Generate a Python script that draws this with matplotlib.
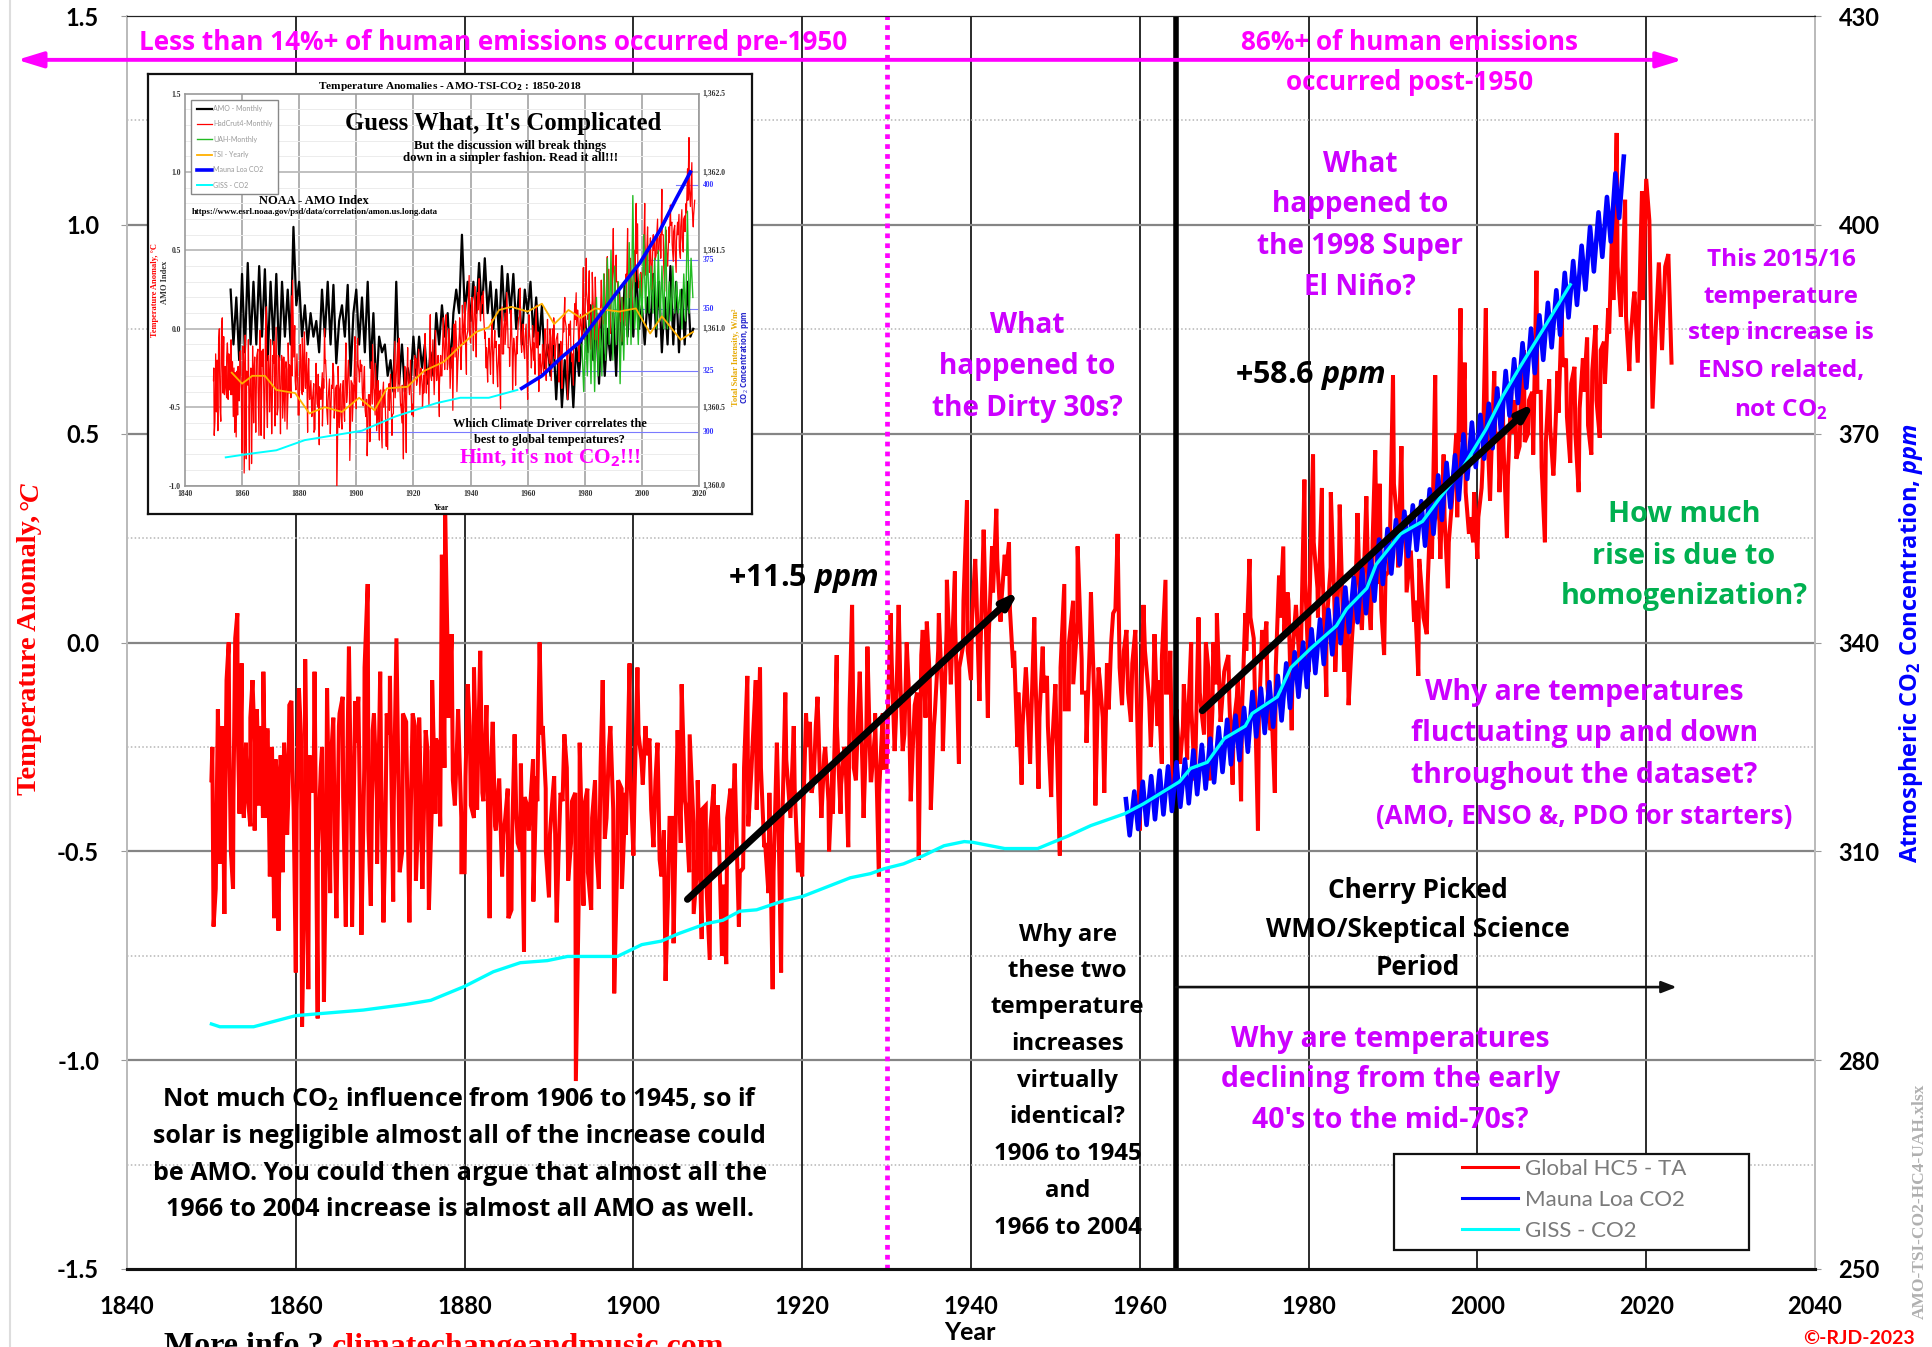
import numpy as np
import matplotlib
matplotlib.use('Agg')
import matplotlib.pyplot as plt
from matplotlib.patches import Rectangle, FancyArrowPatch

plt.rcParams['font.family'] = ['Lato', 'DejaVu Sans']
plt.rcParams['mathtext.fontset'] = 'custom'
plt.rcParams['mathtext.rm'] = 'Open Sans'
plt.rcParams['mathtext.bf'] = 'Open Sans:bold'
plt.rcParams['mathtext.it'] = 'Open Sans:italic:bold'

# global temperature anomaly, spikes and dips read by decade
red_1850s = [-0.33,-0.68,-0.59,-0.16,-0.53,-0.2,-0.65,-0.09,0.0,-0.5,-0.59,0.01,0.07,-0.41,-0.05,-0.42,-0.24,-0.38,-0.18,-0.09,-0.45,-0.16,-0.39,-0.2,-0.07,-0.42,-0.21,-0.56,-0.25,-0.66,-0.3,-0.69,-0.27,-0.55,-0.28,-0.46,-0.15,-0.14,-0.4]
red_1860s = [-0.79,-0.11,-0.92,-0.04,-0.83,-0.3,-0.07,-0.9,-0.3,-0.86,-0.11,-0.6,-0.18,-0.66,-0.17,-0.13,-0.68,-0.01,-0.68,-0.14,-0.13,-0.7,-0.06,0.14,-0.63,-0.17,-0.53]
red_1870s = [-0.07,-0.67,-0.17,-0.08,-0.62,0.01,-0.55,-0.17,-0.19,-0.67,-0.17,-0.57,-0.18,-0.59,-0.21,-0.64,-0.09,-0.41,-0.25,0.21,0.31,-0.12,0.02,-0.39,-0.16,-0.55]
red_1880s = [-0.55,-0.1,-0.39,-0.06,-0.4,-0.02,-0.38,-0.15,-0.66,-0.19,-0.45,-0.33,-0.56,-0.42,-0.66,-0.64,-0.22,-0.48,-0.29,-0.74,-0.39,-0.39,-0.62,-0.32,0.0,-0.2,-0.5]
red_1890s = [-0.61,-0.36,-0.67,-0.36,-0.22,-0.57,-0.38,-1.05,-0.24,-0.63,-0.35,-0.64,-0.33,-0.59,-0.09,-0.42,-0.2,-0.84,-0.33,-0.59,-0.36,-0.05]
red_1900s = [-0.51,-0.06,-0.28,-0.2,-0.23,-0.49,-0.24,-0.56,-0.81,-0.42,-0.72,-0.21,-0.1,-0.39,-0.22,-0.65,-0.33,-0.71,-0.39,-0.76,-0.34]
red_1910s = [-0.39,-0.75,-0.77,-0.35,-0.29,-0.68,-0.54,-0.08,-0.3,-0.09,-0.06,-0.49,-0.6,-0.83,-0.24,-0.79,-0.12,-0.39,-0.2,-0.55]
red_1920s = [-0.56,-0.17,-0.19,-0.33,-0.13,-0.42,-0.25,-0.5,-0.41,-0.03,-0.41,-0.25,-0.49,0.09,-0.33,-0.07,-0.42,-0.01,-0.33,-0.17,-0.56,-0.17]
red_1930s = [-0.3,0.07,-0.26,0.09,-0.26,0.0,-0.38,-0.15,-0.52,0.03,0.05,-0.4,-0.17,0.07,-0.26,0.15,-0.09,0.17,-0.29,-0.01,0.34]
red_1940s = [-0.09,0.2,-0.14,0.27,-0.18,0.23,0.32,0.05,0.21,0.24,-0.06,-0.25,-0.34,-0.06,-0.29,0.06,-0.35,-0.01,-0.08,-0.37]
red_1950s = [-0.1,-0.51,0.14,-0.16,0.1,0.23,-0.12,-0.24,0.12,-0.39,-0.09,-0.36,-0.16,0.07,0.26,-0.15,0.03,-0.19,0.03]
red_1960s = [-0.45,0.09,-0.08,-0.25,0.02,-0.09,-0.29,0.15,-0.12,-0.4,-0.16,-0.29,-0.1,-0.22,0.0,-0.33,0.06,-0.18,0.0,-0.33,0.0,0.07,-0.19]
red_1970s = [-0.07,-0.03,-0.34,-0.13,-0.38,0.07,0.2,0.01,-0.45,0.03,0.05,-0.21,-0.36,0.16,0.23,0.12,-0.21,0.09,-0.07,0.39]
red_1980s = [-0.07,0.45,0.13,0.37,-0.13,0.36,-0.07,0.33,-0.07,-0.15,0.05,0.31,0.03,0.35,0.03,0.46,0.38,-0.03,0.17]
red_1990s = [0.64,0.29,0.47,0.3,0.2,0.05,-0.08,0.1,0.02,0.35,0.64,0.29,0.45,0.13,0.34,0.5,0.8,0.67,0.26,0.24]
red_2000s = [0.2,0.37,0.8,0.34,0.65,0.5,0.58,0.25,0.6,0.58,0.47,0.7,0.5,0.6,0.89,0.6,0.24,0.63,0.4,0.65]
red_2010s = [0.79,0.68,0.43,0.66,0.36,0.68,0.73,0.45,0.76,0.49,0.72,0.8,1.02,1.22,0.78,1.06,0.65,0.82,0.67,1.08]
red_2020s = [1.11,1.01,0.56,0.75,0.91,0.7,0.9,0.93,0.67]

# the small wiggles between them, in the solid core of the band
mid_1850s = [-0.25,-0.42,-0.3,-0.45,-0.22,-0.38,-0.2,-0.36,-0.27,-0.44,-0.24,-0.33,-0.42,-0.21,-0.35,-0.28,-0.4,-0.24,-0.37,-0.3]
mid_1860s = [-0.4,-0.22,-0.48,-0.27,-0.36,-0.5,-0.25,-0.43,-0.3,-0.46,-0.2,-0.37,-0.28,-0.49,-0.24,-0.41,-0.3,-0.45,-0.21,-0.38]
mid_1870s = [-0.3,-0.46,-0.22,-0.38,-0.27,-0.5,-0.25,-0.42,-0.2,-0.36,-0.47,-0.26,-0.4,-0.23,-0.44,-0.3,-0.18,-0.33,-0.24,-0.42]
mid_1880s = [-0.32,-0.2,-0.42,-0.25,-0.36,-0.18,-0.3,-0.44,-0.33,-0.46,-0.35,-0.48,-0.4,-0.5,-0.37,-0.45,-0.28,-0.38,-0.22,-0.35]
mid_1890s = [-0.46,-0.32,-0.52,-0.38,-0.3,-0.48,-0.36,-0.5,-0.4,-0.55,-0.42,-0.5,-0.3,-0.47,-0.25,-0.4,-0.5,-0.35,-0.46,-0.3]
mid_1900s = [-0.38,-0.22,-0.34,-0.27,-0.4,-0.33,-0.52,-0.45,-0.6,-0.42,-0.33,-0.48,-0.38,-0.55,-0.43,-0.52,-0.4,-0.56,-0.45,-0.5]
mid_1910s = [-0.45,-0.58,-0.42,-0.52,-0.38,-0.55,-0.3,-0.44,-0.25,-0.4,-0.3,-0.48,-0.36,-0.55,-0.33,-0.46,-0.28,-0.42,-0.35,-0.48]
mid_1920s = [-0.42,-0.25,-0.36,-0.2,-0.33,-0.27,-0.38,-0.3,-0.2,-0.34,-0.26,-0.16,-0.3,-0.18,-0.28,-0.2,-0.33,-0.22,-0.36,-0.3]
mid_1930s = [-0.2,-0.05,-0.18,-0.08,-0.22,-0.1,-0.25,-0.12,-0.03,-0.18,-0.08,-0.2,-0.02,-0.14,0.03,-0.1,0.05,-0.06,0.1,-0.02]
mid_1940s = [0.05,0.14,-0.03,0.18,0.02,0.12,0.2,0.1,0.16,0.08,-0.02,-0.12,-0.2,-0.1,-0.2,-0.06,-0.18,-0.12,-0.2,-0.25]
mid_1950s = [-0.2,-0.06,-0.16,0.0,-0.1,0.05,-0.04,-0.12,0.02,-0.14,-0.06,-0.18,-0.05,0.0,0.08,-0.06,-0.02,-0.12,-0.05,-0.1]
mid_1960s = [-0.2,-0.02,-0.14,-0.1,-0.2,-0.04,-0.12,-0.02,-0.2,-0.26,-0.2,-0.28,-0.16,-0.26,-0.12,-0.22,-0.06,-0.16,-0.1,-0.18]
mid_1970s = [-0.06,-0.14,-0.2,-0.08,-0.16,-0.02,0.06,-0.1,-0.18,-0.04,-0.1,-0.16,-0.06,0.06,0.02,0.1,-0.02,0.05,0.0,0.14]
mid_1980s = [0.1,0.24,0.06,0.2,0.04,0.18,0.06,0.2,0.02,0.1,0.0,0.16,0.08,0.2,0.1,0.26,0.14,0.08,0.16,0.22]
mid_1990s = [0.38,0.18,0.3,0.12,0.22,0.1,0.2,0.06,0.14,0.2,0.36,0.2,0.3,0.24,0.38,0.3,0.48,0.36,0.3,0.36]
mid_2000s = [0.3,0.42,0.55,0.42,0.5,0.36,0.46,0.4,0.5,0.44,0.56,0.48,0.58,0.45,0.6,0.42,0.48,0.52,0.44,0.55]
mid_2010s = [0.66,0.54,0.62,0.5,0.56,0.6,0.52,0.65,0.58,0.7,0.62,0.74,0.82,0.9,0.84,0.78,0.72,0.84,0.76,0.82]

red_decades = [red_1850s,red_1860s,red_1870s,red_1880s,red_1890s,red_1900s,red_1910s,red_1920s,red_1930s,
               red_1940s,red_1950s,red_1960s,red_1970s,red_1980s,red_1990s,red_2000s,red_2010s]
mid_decades = [mid_1850s,mid_1860s,mid_1870s,mid_1880s,mid_1890s,mid_1900s,mid_1910s,mid_1920s,mid_1930s,
               mid_1940s,mid_1950s,mid_1960s,mid_1970s,mid_1980s,mid_1990s,mid_2000s,mid_2010s]

# mauna loa seasonal high and low of each year, ppm
co2_first_year = 1958
co2_high = [317.5,318.6,320.0,320.8,321.6,322.2,322.8,323.2,324.5,325.3,326.2,327.8,328.9,329.5,330.6,332.9,333.4,334.3,335.2,337.0,338.6,340.0,341.9,343.3,344.7,346.3,347.9,349.3,350.6,352.4,354.8,356.3,357.6,358.8,359.7,360.3,362.0,364.0,365.8,366.9,369.9,371.6,372.7,374.3,376.5,379.0,380.7,383.0,385.1,387.0,388.8,390.6,393.1,394.8,397.0,399.7,401.8,404.0,407.4,409.8]
co2_low = [312.3,313.2,313.8,314.6,315.3,315.8,316.4,316.9,318.2,319.0,319.9,321.4,322.5,323.1,324.3,326.5,327.0,327.9,328.8,330.6,332.2,333.6,335.6,336.9,338.3,339.9,341.5,342.9,344.2,346.0,348.4,349.9,351.2,352.4,353.3,353.9,355.6,357.6,359.4,360.5,363.5,365.2,366.4,367.9,370.1,372.6,374.4,376.6,378.7,380.6,382.4,384.2,386.7,388.5,390.7,393.3,395.4,397.6,401.0]

# giss co2
giss_years = [1850,1851,1855,1860,1863,1868,1873,1876,1880,1883.4,1886.6,1889.8,1892.2,1898.1,1901,1903.3,1905.4,1908.6,1910.6,1912.6,1914.6,1917.8,1920,1925.7,1928.1,1929.7,1932,1934.4,1936.8,1939.2,1940.2,1944,1947.9,1951.5,1954.2,1958.2,1960.4,1964.7,1966,1968,1970,1972.5,1973.3,1976.3,1977.9,1980.3,1983.3,1984.5,1986.9,1988,1990.9,1993.5,1995.7,1998,2001,2003,2005,2008,2011]
giss_ppm = [285.2,284.8,284.8,286.4,286.7,287.2,288.0,288.6,290.6,292.7,294.0,294.3,294.9,294.9,296.6,297.1,298.2,299.6,300.1,301.4,301.6,302.9,303.5,306.2,306.8,307.5,308.2,309.4,310.8,311.4,311.3,310.4,310.4,312.2,313.7,315.4,316.8,320.0,321.9,322.8,326.2,328.0,329.8,332.2,336.4,339.2,342.4,344.8,347.8,351.2,355.6,357.4,361.0,364.6,370.6,375.4,379.5,385.4,391.4]

# small chart in the corner
amo_first_year = 1856
amo_vals = [.25,-.1,.2,-.2,.35,-.15,.42,-.1,.3,-.1,.4,-.05,.38,-.2,.3,-.1,.35,-.2,.3,-.05,.25,-.1,.65,.15,
            .3,-.05,.15,-.1,.1,-.05,.05,-.15,.25,-.05,.3,-.1,.28,-.22,.05,.15,-.05,.28,-.3,.1,
            .25,-.1,.2,-.15,.3,-.25,.1,-.4,-.05,-.15,-.1,-.3,-.2,-.4,.3,-.35,-.1,-.4,-.25,-.35,
            -.05,-.3,-.05,-.25,-.1,-.35,-.15,-.3,.1,-.1,.15,-.05,.1,-.25,.1,.25,.1,.6,.1,.3,
            .05,.3,.1,.42,.1,.45,.1,.3,0,.25,-.05,.4,.05,.35,.1,.35,0,.25,-.1,.25,
            .1,.3,-.05,.2,-.1,.15,-.25,-.1,-.3,-.05,-.45,-.1,-.5,-.2,-.45,-.15,-.5,-.1,-.3,-.05,
            .1,-.15,.15,-.2,.05,-.35,.1,-.3,0,-.2,.1,-.3,.25,-.1,.3,-.05,.3,-.05,.4,0,
            .15,-.1,.2,0,.35,-.05,.3,-.15,.2,-.1,.4,-.1,.3,-.15,.25,-.1,.3,-.05,0]
uah_vals = [-.1,-.4,0,-.3,.1,-.35,.15,-.4,.2,-.3,0,-.3,.35,-.2,.45,-.1,.5,-.2,.4,-.1,.3,-.35,.2,-.2,.3,-.1,.55,-.1,.85,0,.2,-.1,.35,.05,.6,.1,.5,.1,.4,.1,.45,0,.5,.05,.4,0,.65,0,.3,.05,.4,.1,.3,.1,.25,0,.35,.05,.75,.1,.45,.2]
tsi_years = [1856.4,1860,1863.6,1868,1872,1878.6,1883.6,1889,1895,1901,1906.4,1910.7,1917.9,1923.6,1930.7,1936.4,1942,1946.4,1950,1954.3,1960,1965,1969.3,1974.3,1978.6,1983.6,1992,1997.9,2002.9,2007,2013.6,2017.9]
tsi_vals = [-.28,-.35,-.3,-.3,-.39,-.41,-.54,-.5,-.53,-.44,-.52,-.38,-.37,-.27,-.21,-.11,-.02,.01,.12,.14,.11,.16,.03,.12,.07,.13,.11,.13,-.03,.08,-.07,-.02]
inset_blue_years = [1957.9,1965,1972,1977.9,1985,1992,1999.3,2006.4,2012,2017]
inset_blue_vals = [-.38,-.3,-.18,-.09,.08,.25,.42,.63,.83,1.0]
inset_cyan_years = [1854.3,1863.6,1872,1882,1892,1902,1913.6,1927.9,1936.4,1946.4,1956.4]
inset_cyan_vals = [-.82,-.795,-.775,-.71,-.68,-.65,-.56,-.475,-.44,-.44,-.39]

x_ticks = [1840,1860,1880,1900,1920,1940,1960,1980,2000,2020,2040]
y_ticks = [-1.5,-1.0,-0.5,0.0,0.5,1.0,1.5]
y_minor = [-1.25,-0.75,-0.25,0.25,0.75,1.25]
co2_ticks = [250,280,310,340,370,400,430]

purple = '#cc00ff'
magenta = '#ff00ff'
green = '#00b050'

# build red line, each decade spread over its ten years, wiggles merged in by year
red_x = []
red_y = []
for i, dec in enumerate(red_decades):
    start = 1850 + i*10
    red_x += list(np.linspace(start, start+10, len(dec), endpoint=False))
    red_y += dec
    red_x += list(np.linspace(start, start+10, len(mid_decades[i]), endpoint=False) + 0.11)
    red_y += mid_decades[i]
red_x += list(np.linspace(2020, 2023, len(red_2020s)))
red_y += red_2020s
red_x = np.array(red_x)
red_y = np.array(red_y)
order = np.argsort(red_x)
red_x = red_x[order]
red_y = red_y[order]

# blue line goes high then low in each year, ends on the last high
blue_x = []
blue_y = []
for i in range(len(co2_high)):
    blue_x.append(co2_first_year+i+0.35)
    blue_y.append(co2_high[i])
    if i < len(co2_low):
        blue_x.append(co2_first_year+i+0.8)
        blue_y.append(co2_low[i])

W = 1568.0
H = 1093.0

fig = plt.figure(figsize=(19.33,13.47), dpi=100, facecolor='white')
ax = fig.add_axes([127/1933, 1-1269/1347, (1815-127)/1933, (1269-16)/1347])
ax2 = ax.twinx()

ax.set_xlim(1840,2040)
ax.set_ylim(-1.5,1.5)
ax2.set_ylim(250,430)

ax.set_xticks(x_ticks)
ax.set_yticks(y_ticks)
ax2.set_yticks(co2_ticks)
ax.set_yticklabels(['%.1f' % v for v in y_ticks])
ax.tick_params(labelsize=17, length=4, color='#999999', pad=16)
ax.tick_params(axis='x', pad=19, length=0)
ax2.tick_params(labelsize=17, length=4, color='#999999', pad=13)
for lab in ax.get_xticklabels()+ax.get_yticklabels()+ax2.get_yticklabels():
    lab.set_fontweight('bold')

ax.set_axisbelow(True)
for v in x_ticks[1:-1]:
    ax.axvline(v, color='#1a1a1a', lw=1.3, zorder=1)
for v in y_ticks[1:-1]:
    ax.axhline(v, color='#858585', lw=1.6, zorder=1)
for v in y_minor:
    ax.axhline(v, color='#b5b5b5', lw=1.1, ls=(0,(1,1.5)), zorder=1)

for a in [ax, ax2]:
    a.spines['left'].set_color('#bbbbbb')
    a.spines['right'].set_color('#bbbbbb')
    a.spines['top'].set_color('#222222')
    a.spines['bottom'].set_color('#111111')
    a.spines['bottom'].set_linewidth(2.2)
    a.spines['left'].set_linewidth(1.3)
    a.spines['right'].set_linewidth(1.3)

l_red, = ax.plot(red_x, red_y, color='#ff0000', lw=2.9, solid_joinstyle='miter', zorder=3, label='Global HC5 - TA')
ax.axvline(1930, color=magenta, lw=3.4, ls=(0,(1,1.1)), zorder=4)
ax.axvline(1964.25, color='black', lw=4, zorder=5)

l_blue, = ax2.plot(blue_x, blue_y, color='#0000ff', lw=3.3, label='Mauna Loa CO2', zorder=3)
l_cyan, = ax2.plot(giss_years, giss_ppm, color='#00ffff', lw=2.4, label='GISS - CO2', zorder=4)

# trend arrows and span arrows
ax2.annotate('', xy=(1945.7,347.4), xytext=(1906.4,303.1), zorder=6,
             arrowprops=dict(arrowstyle='-|>,head_width=0.3,head_length=0.9', color='black', lw=5, shrinkA=0, shrinkB=0))
ax2.annotate('', xy=(2006.8,374.4), xytext=(1967.4,330.2), zorder=6,
             arrowprops=dict(arrowstyle='-|>,head_width=0.3,head_length=0.9', color='black', lw=5, shrinkA=0, shrinkB=0))
ax2.annotate('', xy=(2023.6,290.5), xytext=(1964.3,290.5), zorder=6,
             arrowprops=dict(arrowstyle='-|>,head_width=0.35,head_length=0.9', color='#111111', lw=1.9, shrinkA=0, shrinkB=0))
ax2.add_patch(FancyArrowPatch((1827,1.395), (2024.3,1.395), transform=ax.transData, clip_on=False,
              arrowstyle='<|-|>,head_width=0.4,head_length=1.3', color=magenta, lw=2.8, mutation_scale=12, shrinkA=0, shrinkB=0, zorder=6))

# legend box
ax2.add_patch(Rectangle((1131/W, 1-1014/H), 288/W, 78/H, transform=fig.transFigure, facecolor='white',
                        edgecolor='#111111', lw=1.6, zorder=7))
leg = ax2.legend(handles=[l_red,l_blue,l_cyan], loc='center left', bbox_to_anchor=(1170/W,1-973.5/H),
                 bbox_transform=fig.transFigure, frameon=False, fontsize=16, handlelength=2.5, handletextpad=0.3,
                 labelspacing=0.5, labelcolor='#7a7a7a')
leg.set_zorder(8)
for h in leg.get_lines():
    h.set_linewidth(2.2)


def lines_at(xc, ys, lines, color='black', size=20, weight='bold', family='Open Sans', style='normal', zo=9):
    # centred text lines at positions measured on the 1568 wide picture
    for yy, s in zip(ys, lines):
        fig.text(xc/W, 1-(yy+1.3)/H, s, color=color, fontsize=size, fontweight=weight, style=style,
                 ha='center', va='center', family=family, zorder=zo)


lines_at(400, [33], ['Less than 14%+ of human emissions occurred pre-1950'], magenta, 18.8)
lines_at(1143, [33,66], ['86%+ of human emissions','occurred post-1950'], magenta, 18.8)
lines_at(1103, [132,165,199,232], ['What','happened to','the 1998 Super','El Niño?'], purple, 20.2)
lines_at(833, [263,296,330], ['What','happened to','the Dirty 30s?'], purple, 20.2)
lines_at(1445, [210,240,269,300,331], ['This 2015/16','temperature','step increase is','ENSO related,',r'not CO$_{\mathbf{2}}$'], purple, 17.5)
lines_at(1366, [416,450,483], ['How much','rise is due to','homogenization?'], green, 20.8)
lines_at(1285, [561,594,628], ['Why are temperatures','fluctuating up and down','throughout the dataset?'], purple, 20.4)
lines_at(1285, [661], ['(AMO, ENSO &, PDO for starters)'], purple, 18.7)
lines_at(1150, [721,753,784], ['Cherry Picked','WMO/Skeptical Science','Period'], 'black', 18.8)
lines_at(1128, [842,875,908], ['Why are temperatures','declining from the early',"40's to the mid-70s?"], purple, 20.4)
lines_at(866, [757,787,816,846,876,905,935,965,995],
         ['Why are','these two','temperature','increases','virtually','identical?','1906 to 1945','and','1966 to 2004'], 'black', 17.3)
lines_at(373, [891,921,951,980],
         [r'Not much CO$_{\mathbf{2}}$ influence from 1906 to 1945, so if','solar is negligible almost all of the increase could',
          'be AMO. You could then argue that almost all the','1966 to 2004 increase is almost all AMO as well.'], 'black', 18)
lines_at(652, [468], [r'+11.5 $\mathit{ppm}$'], 'black', 22)
lines_at(1063, [303], [r'+58.6 $\mathit{ppm}$'], 'black', 22)

# axis titles and small notes
fig.text(24/W, 1-531/H, 'Temperature Anomaly,', color='#ff0000', fontsize=20.5, fontweight='bold', family='Liberation Serif',
         rotation=90, ha='center', va='center')
fig.text(24/W, 1-402/H, '°C', color='#ff0000', fontsize=20, fontweight='bold', style='italic', family='Liberation Serif',
         rotation=90, ha='center', va='center')
fig.text(1550/W, 1-522/H, r'Atmospheric CO$_{\mathbf{2}}$ Concentration, $\mathit{ppm}$', color='#0000ff', fontsize=17,
         fontweight='bold', family='Open Sans', rotation=90, ha='center', va='center')
fig.text(787/W, 1-1081/H, 'Year', fontsize=18, fontweight='bold', ha='center', va='center')
fig.text(1508/W, 1-1086/H, '©-RJD-2023', color='#ff0000', fontsize=14, fontweight='bold', ha='center', va='center')
fig.text(1557/W, 1-975/H, 'AMO-TSI-CO2-HC4-UAH.xlsx', color='#b0b0b0', fontsize=12.5, fontweight='bold', family='Liberation Serif',
         rotation=90, ha='center', va='center')
fig.text(133/W, 1-1093/H, 'More info ? ', fontsize=23, fontweight='bold', family='Liberation Serif', ha='left', va='center')
fig.text(269/W, 1-1093/H, 'climatechangeandmusic.com', color='#ff0000', fontsize=23, fontweight='bold',
         family='Liberation Serif', ha='left', va='center')
# thin line down the left edge of the picture
fig.add_artist(plt.Line2D([8/W,8/W],[0,1], color='#dddddd', lw=1.5, transform=fig.transFigure))

# the corner chart
box = fig.add_axes([120/W, 1-417/H, 490/W, 357/H], zorder=1)
box.set_xticks([])
box.set_yticks([])
for s in box.spines.values():
    s.set_linewidth(1.6)
    s.set_color('#111111')

ins = fig.add_axes([150/W, 1-394/H, 417/W, 318/H], zorder=2)
ins.set_xlim(1840,2020)
ins.set_ylim(-1,1.5)
ins.set_xticks(x_ticks[:-1])
ins.set_yticks(y_ticks[1:])
ins.set_yticklabels(['%.1f' % v for v in y_ticks[1:]])
ins.tick_params(labelsize=5.5, length=0, pad=3, colors='#333333')
for lab in ins.get_xticklabels()+ins.get_yticklabels():
    lab.set_fontweight('bold')
    lab.set_family('Liberation Serif')
for s in ins.spines.values():
    s.set_color('#999999')
    s.set_linewidth(1.2)
for v in x_ticks[1:-1]:
    ins.axvline(v, color='#aaaaaa', lw=1.3, zorder=1)
for v in y_ticks[1:-1]:
    ins.axhline(v, color='#bbbbbb', lw=1.3, zorder=1)
for v in [-0.9,-0.8,-0.7,-0.6,-0.4,-0.3,-0.2,-0.1,0.1,0.2,0.3,0.4,0.6,0.7,0.8,0.9,1.1,1.2,1.3,1.4]:
    ins.axhline(v, color='#ececec', lw=0.7, zorder=1)

# ppm guide lines of the corner chart
for yy, x0, s in [(-.66,1900,'300'),(-.27,1968,'325'),(.126,1990,'350'),(.44,2000,'375'),(.915,2012,'400')]:
    ins.plot([x0,2020],[yy,yy], color='#7a7aff', lw=0.8, zorder=2)
    ins.text(2021.3, yy, s, color='#3333ff', fontsize=5.5, fontweight='bold', family='Liberation Serif', va='center', clip_on=False)
for yy, s in zip(y_ticks[1:], ['1,360.0','1,360.5','1,361.0','1,361.5','1,362.0','1,362.5']):
    ins.text(2021.3, yy, s, color='#333333', fontsize=5.5, fontweight='bold', family='Liberation Serif', va='center', clip_on=False)

amo_x = amo_first_year + np.arange(len(amo_vals))
uah_x = 1979 + np.arange(len(uah_vals))*(2018.5-1979)/len(uah_vals)
keep = red_x <= 2018.5
h1, = ins.plot(amo_x, amo_vals, color='black', lw=1.6, zorder=3, label='AMO - Monthly')
h2, = ins.plot(red_x[keep], red_y[keep], color='#ff0000', lw=0.9, zorder=4, label='HadCrut4-Monthly')
h3, = ins.plot(uah_x, uah_vals, color='#22bb22', lw=1.0, zorder=5, label='UAH-Monthly')
h4, = ins.plot(tsi_years, tsi_vals, color='#ffb000', lw=1.3, zorder=6, label='TSI - Yearly')
h5, = ins.plot(inset_blue_years, inset_blue_vals, color='#0000ff', lw=2.6, zorder=7, label='Mauna Loa CO2')
h6, = ins.plot(inset_cyan_years, inset_cyan_vals, color='#00ffff', lw=1.4, zorder=7, label='GISS - CO2')
ins_leg = ins.legend(handles=[h1,h2,h3,h4,h5,h6], loc='upper left', bbox_to_anchor=(0.012,0.985), fontsize=5, fancybox=False,
                     edgecolor='#888888', framealpha=1, handlelength=2.2, labelspacing=1.2, labelcolor='#999999', borderpad=0.8,
                     borderaxespad=0, handletextpad=0.2)

lines_at(365, [69], [r'Temperature Anomalies - AMO-TSI-CO$_{\mathbf{2}}$ : 1850-2018'], 'black', 8.2, family='Liberation Serif')
lines_at(408, [99], ["Guess What, It's Complicated"], 'black', 17.8, family='Liberation Serif')
lines_at(414, [117,127], ['But the discussion will break things','down in a simpler fashion. Read it all!!!'], 'black', 9.2, family='Liberation Serif')
lines_at(255, [162], ['NOAA - AMO Index'], 'black', 9, family='Liberation Serif')
lines_at(255, [171], ['https://www.esrl.noaa.gov/psd/data/correlation/amon.us.long.data'], 'black', 6.3, family='Liberation Serif')
lines_at(446, [343,356], ['Which Climate Driver correlates the','best to global temperatures?'], 'black', 8.9, family='Liberation Serif')
lines_at(446, [370], [r'Hint, it' + "'" + r's not CO$_{\mathbf{2}}$!!!'], magenta, 15.3, family='Liberation Serif')
lines_at(358, [411], ['Year'], 'black', 5.5, family='Liberation Serif')
fig.text(126/W, 1-235/H, 'Temperature Anomaly, °C', color='#ff0000', fontsize=6, fontweight='bold', family='Liberation Serif', rotation=90, ha='center', va='center', zorder=9)
fig.text(134/W, 1-229/H, 'AMO Index', color='#333333', fontsize=6, fontweight='bold', family='Liberation Serif', rotation=90, ha='center', va='center', zorder=9)
fig.text(597/W, 1-290/H, 'Total Solar Intensity, W/m²', color='#e6a800', fontsize=6, fontweight='bold', family='Liberation Serif', rotation=90, ha='center', va='center', zorder=9)
fig.text(604/W, 1-290/H, r'CO$_2$ Concentration, ppm', color='#2222cc', fontsize=5.5, fontweight='bold', family='Open Sans', rotation=90, ha='center', va='center', zorder=9)

fig.savefig('out.png', dpi=100)
